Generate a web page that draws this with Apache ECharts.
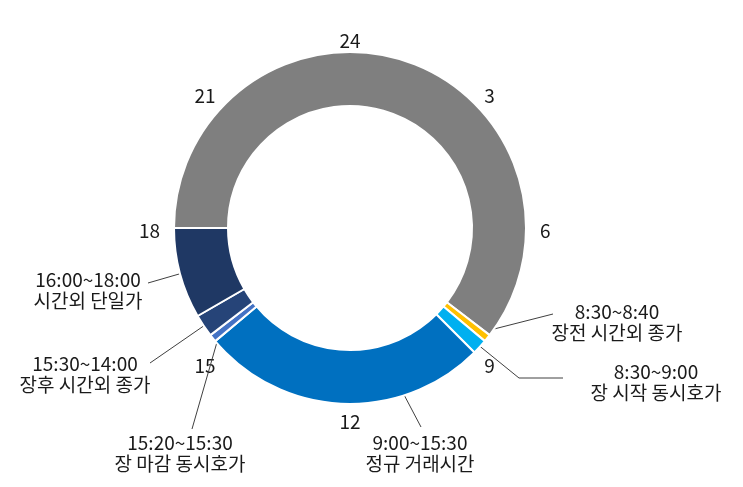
<!DOCTYPE html>
<html>
<head>
<meta charset="utf-8">
<script src="https://cdn.jsdelivr.net/npm/echarts@6/dist/echarts.min.js"></script>
<style>
  html, body { margin: 0; padding: 0; background: #fff; }
  #chart { width: 743px; height: 487px; }
</style>
</head>
<body>
<div id="chart"></div>
<script>
// 하루 24시간을 18:00부터 시계 방향으로 나눈 구간 (분 단위)
const segmentNames = ['기타 시간', '장전 시간외 종가', '장 시작 동시호가', '정규 거래시간', '장 마감 동시호가', '장후 시간외 종가', '시간외 단일가'];
const segmentTimes = ['18:00~8:30', '8:30~8:40', '8:30~9:00', '9:00~15:30', '15:20~15:30', '15:30~14:00', '16:00~18:00'];
const segmentMinutes = [870, 10, 20, 380, 10, 30, 120];
const segmentColors = ['#7F7F7F', '#FFC000', '#00B0F0', '#0070C0', '#4472C4', '#264478', '#1F3864'];
const hourLabels = ['24', '3', '6', '9', '12', '15', '18', '21'];

const CX = 350, CY = 228, R_IN = 122, R_OUT = 176;
const START_HOUR = 18;
const FONT = '"Noto Sans CJK KR", "Noto Sans", sans-serif';

// 말풍선 위치 (텍스트 중심, 꺾임점/끝점)
const calloutLayout = [
  null,
  { x: 617, y: 322, path: [[553, 314]], frac: 0.5 },
  { x: 656, y: 382, path: [[519, 378], [563, 378]], frac: 0.5 },
  { x: 420, y: 453, path: [[421, 427]], frac: 0.29 },
  { x: 180, y: 453, path: [[192, 429]], frac: 0.5 },
  { x: 85, y: 374, path: [[150, 363]], frac: 0.5 },
  { x: 88, y: 290, path: [[148, 283]], frac: 0.5 }
];

function anchorPoint(idx, frac) {
  let before = 0;
  for (let i = 0; i < idx; i++) before += segmentMinutes[i];
  const hour = START_HOUR + (before + segmentMinutes[idx] * frac) / 60;
  const a = hour * 15 * Math.PI / 180;
  const r = R_OUT - 9;
  return [CX + r * Math.sin(a), CY - r * Math.cos(a)];
}

const chart = echarts.init(document.getElementById('chart'));

const pieData = segmentNames.map((name, i) => ({
  name: name,
  value: segmentMinutes[i],
  time: segmentTimes[i],
  itemStyle: { color: segmentColors[i] },
  label: { show: i > 0 },
  labelLine: { show: i > 0 }
}));

chart.setOption({
  backgroundColor: '#fff',
  animation: false,
  // 시각 눈금용 극좌표 (라벨만 표시)
  polar: {
    center: [CX, CY + 3],
    radius: R_OUT
  },
  angleAxis: {
    type: 'value',
    min: 0,
    max: 24,
    interval: 3,
    startAngle: 90,
    clockwise: true,
    axisLine: { show: false },
    axisTick: { show: false },
    splitLine: { show: false },
    axisLabel: {
      margin: 14,
      lineHeight: 1,
      color: '#1a1a1a',
      fontSize: 19,
      fontFamily: FONT,
      formatter: v => (v >= 24 ? '' : hourLabels[v / 3])
    }
  },
  radiusAxis: {
    show: false,
    min: 0,
    max: 1
  },
  series: [
    {
      type: 'pie',
      center: [CX, CY],
      radius: [R_IN, R_OUT],
      startAngle: 180,
      clockwise: true,
      avoidLabelOverlap: false,
      silent: true,
      itemStyle: {
        borderColor: '#fff',
        borderWidth: 2
      },
      label: {
        position: 'outside',
        color: '#1a1a1a',
        fontSize: 19,
        lineHeight: 21,
        fontFamily: FONT,
        align: 'center',
        formatter: p => p.data.time + '\n' + p.name
      },
      labelLine: {
        lineStyle: { color: '#404040', width: 1 }
      },
      labelLayout: params => {
        const c = calloutLayout[params.dataIndex];
        if (!c) return {};
        const pts = [anchorPoint(params.dataIndex, c.frac)].concat(c.path);
        if (pts.length < 3) pts.push(pts[pts.length - 1].slice());
        return {
          x: c.x,
          y: c.y,
          align: 'center',
          verticalAlign: 'middle',
          labelLinePoints: pts
        };
      },
      data: pieData
    }
  ]
});
</script>
</body>
</html>
